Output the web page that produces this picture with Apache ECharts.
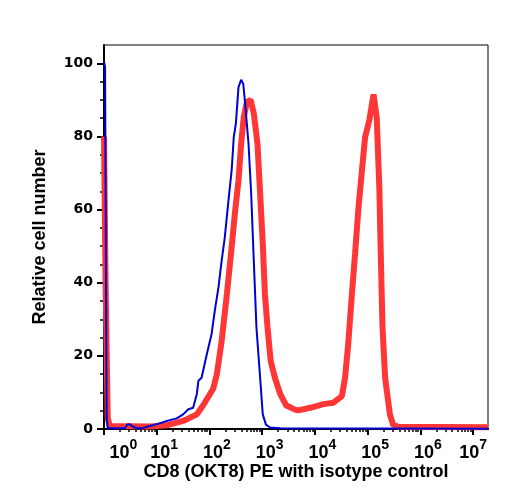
<!DOCTYPE html>
<html lang="en">

<head>
    <meta charset="utf-8">
    <style>
        html, body { margin: 0; padding: 0; background: #fff; }
    </style>
</head>

<body>
    <div id="main" style="width: 508px;height:500px;"></div>
    <script src="https://cdn.jsdelivr.net/npm/echarts/dist/echarts.min.js"></script>
    <script type="text/javascript">
    // x values are decades (log10 of PE intensity), y is relative cell number
    var blueDecade = [0, 0.02, 0.05, 0.07, 0.40, 0.44, 0.49, 0.55, 0.63, 0.74,
        0.87, 1.02, 1.19, 1.38, 1.50, 1.60, 1.69, 1.76, 1.79, 1.85,
        1.95, 2.04, 2.10, 2.17, 2.23, 2.29, 2.36, 2.42, 2.46, 2.50,
        2.55, 2.60, 2.64, 2.67, 2.74, 2.79, 2.84, 2.89, 2.96, 3.01,
        3.07, 3.15, 3.34, 7.28];
    var blueCount = [100.5, 99, 3, 0.2, 0.2, 1.2, 1.3, 0.6, 0.2, 0.3,
        0.8, 1.4, 2.2, 2.9, 4.0, 5.4, 5.8, 9.6, 13.2, 14,
        20.5, 26, 32.3, 38.7, 46, 52.4, 62.5, 70.7, 79.8, 83.5,
        93.5, 95.5, 94.4, 89.9, 78, 64.4, 46, 27.8, 14, 4,
        1.2, 0.4, 0.2, 0.1];

    var redDecade = [0, 0.03, 0.07, 0.11, 0.87, 1.19, 1.50, 1.76, 1.88, 2.07,
        2.14, 2.23, 2.33, 2.42, 2.48, 2.55, 2.60, 2.65, 2.71, 2.78,
        2.84, 2.91, 2.96, 3.01, 3.05, 3.10, 3.16, 3.24, 3.34, 3.45,
        3.62, 3.68, 3.91, 4.16, 4.35, 4.51, 4.57, 4.63, 4.70, 4.76,
        4.82, 4.89, 4.95, 5.03, 5.11, 5.17, 5.22, 5.25, 5.28, 5.33,
        5.42, 5.48, 5.57, 7.28];
    var redCount = [80, 40, 3, 0.8, 0.7, 1.0, 2.2, 4.0, 6.5, 11,
        15, 24, 36.9, 49.7, 58.8, 68, 78, 85.3, 89.4, 90,
        86.3, 78, 64.4, 50.7, 37, 27.8, 18.6, 14, 9.6, 6.5,
        5.3, 5.1, 5.8, 6.8, 7.2, 9, 14, 23.2, 36.9, 47.9,
        59.7, 70.7, 79.8, 84.4, 91.5, 85.3, 66, 46, 27.8, 14,
        4, 1.2, 0.6, 0.5];

    var xDecades = [0, 1, 2, 3, 4, 5, 6, 7];
    var yLabels = [0, 20, 40, 60, 80, 100];

    var xMax = 7.28;
    var yMax = 105;

    // log minor ticks (2..9 in every decade)
    var xMinor = [];
    xDecades.forEach(function (n) {
        for (var k = 2; k <= 9; k++) {
            var v = n + Math.log10(k);
            if (v < xMax) xMinor.push(v);
        }
    });
    var yMinor = [];
    for (var v = 5; v < 100; v += 5) {
        if (v % 20 !== 0) yMinor.push(v);
    }

    function pairs(xs, ys) {
        return xs.map(function (x, i) { return [x, ys[i]]; });
    }

    var titleFont = 'Liberation Sans, Arial, sans-serif';

    function decadeLabel(val) {
        var n = Math.round(val);
        var st = n === 0 ? 'b0' : (n === 7 ? 'b7' : 'b');
        return '{' + st + '|10}{s|' + n + '}';
    }
    var baseStyle = { fontFamily: titleFont, fontWeight: 'bold', fontSize: 18, color: '#000', lineHeight: 24, verticalAlign: 'bottom' };
    var richLabels = {
        b: Object.assign({ padding: [0, 0, 0, 15] }, baseStyle),
        b0: Object.assign({ padding: [0, 0, 0, 39] }, baseStyle),
        b7: Object.assign({}, baseStyle),
        s: { fontFamily: titleFont, fontWeight: 'bold', fontSize: 14, color: '#000', lineHeight: 12, verticalAlign: 'top' }
    };

    var myChart = echarts.init(document.getElementById('main'));
    myChart.setOption({
        animation: false,
        backgroundColor: '#fff',
        grid: {
            left: 104, right: 20, top: 45, bottom: 71,
            show: true, borderColor: '#000', borderWidth: 1
        },
        xAxis: [{
            type: 'value', min: 0, max: xMax, position: 'bottom',
            name: 'CD8 (OKT8) PE with isotype control',
            nameLocation: 'middle', nameGap: 34, nameMoveOverlap: false,
            nameTextStyle: { fontFamily: titleFont, fontWeight: 'bold', fontSize: 18, color: '#000' },
            axisLine: { onZero: false, lineStyle: { color: '#000', width: 2 } },
            axisTick: { customValues: xDecades, length: 6, lineStyle: { color: '#000', width: 2 } },
            splitLine: { show: false },
            axisLabel: {
                customValues: xDecades.slice(1), margin: 9,
                showMinLabel: true, showMaxLabel: true, hideOverlap: false,
                formatter: decadeLabel,
                rich: richLabels
            }
        }, {
            type: 'value', min: 0, max: xMax, position: 'bottom',
            axisLine: { show: false, onZero: false },
            axisTick: { customValues: xMinor, length: 3, lineStyle: { color: '#000', width: 1.5 } },
            axisLabel: { show: false },
            splitLine: { show: false }
        }, {
            // separate axis for the 10^0 label, which sits shifted right of its tick
            type: 'value', min: 0, max: xMax, position: 'bottom',
            axisLine: { show: false, onZero: false },
            axisTick: { show: false },
            axisLabel: {
                customValues: [0], margin: 9, showMinLabel: true,
                formatter: decadeLabel,
                rich: richLabels
            },
            splitLine: { show: false }
        }],
        yAxis: [{
            type: 'value', min: 0, max: yMax, position: 'left',
            name: 'Relative cell number',
            nameLocation: 'middle', nameGap: 55, nameMoveOverlap: false,
            nameTextStyle: { fontFamily: titleFont, fontWeight: 'bold', fontSize: 18, color: '#000' },
            axisLine: { show: true, onZero: false, lineStyle: { color: '#000', width: 2 } },
            axisTick: { show: true, customValues: yLabels, length: 7, lineStyle: { color: '#000', width: 2 } },
            splitLine: { show: false },
            axisLabel: {
                customValues: yLabels, margin: 11,
                showMinLabel: true, hideOverlap: false,
                fontFamily: 'DejaVu Sans, sans-serif', fontWeight: 'bold', fontSize: 14, color: '#000'
            }
        }, {
            type: 'value', min: 0, max: yMax, position: 'left',
            axisLine: { show: false, onZero: false },
            axisTick: { show: true, customValues: yMinor, length: 4, lineStyle: { color: '#000', width: 1.5 } },
            axisLabel: { show: false },
            splitLine: { show: false }
        }],
        series: [{
            name: 'CD8 (OKT8) PE',
            type: 'line',
            xAxisIndex: 0, yAxisIndex: 0,
            showSymbol: false,
            data: pairs(redDecade, redCount),
            lineStyle: { color: '#ff3636', width: 6 },
            z: 2
        }, {
            name: 'isotype control',
            type: 'line',
            xAxisIndex: 0, yAxisIndex: 0,
            showSymbol: false,
            data: pairs(blueDecade, blueCount),
            lineStyle: { color: '#0000d2', width: 2 },
            z: 3
        }]
    });
    </script>
</body>

</html>
